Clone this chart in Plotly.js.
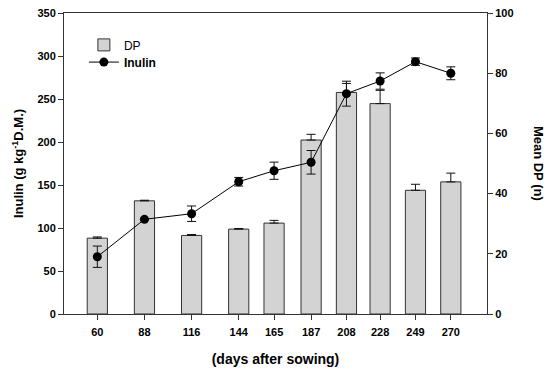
<!DOCTYPE html>
<html>
<head>
<meta charset="utf-8">
<script src="https://cdn.plot.ly/plotly-3.0.1.min.js"></script>
<style>html,body{margin:0;padding:0;background:#fff;}#chart{width:550px;height:371px;}</style>
</head>
<body>
<div id="chart"></div>
<script>
var days = [60, 88, 116, 144, 165, 187, 208, 228, 249, 270];
var dpMean = [25.2, 37.6, 26.1, 28.2, 30.2, 57.8, 73.6, 69.9, 41.1, 43.9];
var dpErr = [0.4, 0.2, 0.3, 0.2, 0.9, 1.9, 3.0, 4.4, 2.0, 2.9];
var inulin = [66.6, 110.1, 116.6, 153.8, 166.6, 176.4, 256.2, 270.9, 293.4, 279.9];
var inulinErr = [12.4, 1.0, 9.0, 5.0, 10.0, 13.7, 14.5, 9.5, 4.3, 7.5];

var FONT = "Liberation Sans, Arial, sans-serif";

var traces = [
  {
    type: 'bar', name: 'DP', x: days, y: dpMean, width: 12,
    yaxis: 'y', legend: 'legend',
    marker: {color: '#d3d3d3', line: {color: '#333333', width: 1}},
    error_y: {type: 'data', array: dpErr, arrayminus: dpErr.map(function(){return 0;}), symmetric: false, color: '#111', thickness: 1, width: 4.5}
  },
  {
    type: 'scatter', mode: 'lines+markers', name: '<b>Inulin</b>', x: days, y: inulin,
    yaxis: 'y2', legend: 'legend2',
    line: {color: '#000', width: 1},
    marker: {color: '#000', size: 9},
    error_y: {type: 'data', array: inulinErr, color: '#111', thickness: 1, width: 4.5}
  }
];

var legBase = {xanchor: 'left', yanchor: 'middle', bgcolor: 'rgba(0,0,0,0)', font: {size: 12, family: FONT}, itemwidth: 30};

var layout = {
  width: 550, height: 371,
  margin: {l: 64, r: 63, t: 13, b: 57},
  paper_bgcolor: '#fff', plot_bgcolor: '#fff',
  font: {family: FONT, color: '#000'},
  showlegend: true,
  legend: Object.assign({}, legBase, {x: 0.047, y: 0.894}),
  legend2: Object.assign({}, legBase, {x: 0.047, y: 0.837}),
  xaxis: {
    range: [40.2, 291.5], tickvals: days, ticktext: days.map(String),
    showgrid: false, zeroline: false, showline: true, linecolor: '#333', linewidth: 1, mirror: true,
    ticks: 'outside', ticklen: 5, tickcolor: '#333', ticklabelstandoff: 3,
    tickfont: {size: 11, family: FONT, weight: 'bold'},
    title: {text: '(days after sowing)', font: {size: 14, family: FONT, weight: 'bold'}, standoff: 16}
  },
  yaxis: {
    side: 'right', range: [0, 100], tickvals: [0, 20, 40, 60, 80, 100],
    showgrid: false, zeroline: false, showline: true, linecolor: '#333', linewidth: 1,
    ticks: 'outside', ticklen: 5, tickcolor: '#333',
    tickfont: {size: 11, family: FONT, weight: 'bold'}
  },
  yaxis2: {
    overlaying: 'y', side: 'left', range: [0, 350], tickvals: [0, 50, 100, 150, 200, 250, 300, 350],
    showgrid: false, zeroline: false, showline: true, linecolor: '#333', linewidth: 1,
    ticks: 'outside', ticklen: 5, tickcolor: '#333',
    tickfont: {size: 11, family: FONT, weight: 'bold'},
    title: {text: 'Inulin (g kg<sup>-1</sup>D.M.)', font: {size: 13, family: FONT, weight: 'bold'}, standoff: 10}
  },
  annotations: [
    {xref: 'paper', yref: 'paper', x: 1.122, y: 0.5, xanchor: 'center', yanchor: 'middle',
     text: '<b>Mean DP (n)</b>', textangle: 90, showarrow: false, font: {size: 13, family: FONT}}
  ]
};

Plotly.newPlot('chart', traces, layout, {staticPlot: true});
</script>
</body>
</html>
